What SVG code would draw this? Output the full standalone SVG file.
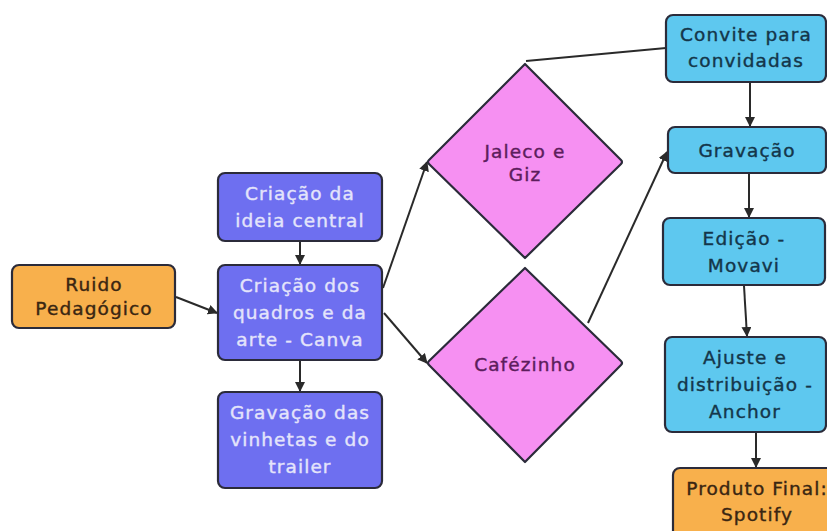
<svg xmlns="http://www.w3.org/2000/svg" width="827" height="531" viewBox="0 0 827 531">
<defs>
<marker id="ah" viewBox="0 0 10 10" refX="9" refY="5" markerWidth="5" markerHeight="5" orient="auto-start-reverse">
<path d="M0,0 L10,5 L0,10 z" fill="#2a2a2a"/>
</marker>
<style>
.n{stroke:#2b2b3a;stroke-width:2.2}
.p{fill:#6e6ff0}
.o{fill:#f8b04c}
.k{fill:#f690f2}
.b{fill:#5ec8ef}
text{font-family:"DejaVu Sans","Liberation Sans",sans-serif;font-size:18.5px;letter-spacing:1.1px;text-anchor:middle;stroke-width:0.4px}
.tp{fill:#e4e4fb;stroke:#e4e4fb}
.to{fill:#3a2612;stroke:#3a2612}
.tk{fill:#5c1d5c;stroke:#5c1d5c}
.tb{fill:#14364a;stroke:#14364a}
.c{stroke:#2a2a2a;stroke-width:2;fill:none}
</style>
</defs>
<rect width="827" height="531" fill="#ffffff"/>
<g id="connectors">
<line class="c" x1="300" y1="241" x2="300" y2="264" marker-end="url(#ah)"/>
<line class="c" x1="300" y1="360" x2="300" y2="391" marker-end="url(#ah)"/>
<line class="c" x1="176" y1="297" x2="217" y2="313" marker-end="url(#ah)"/>
<line class="c" x1="383" y1="288" x2="427" y2="162" marker-end="url(#ah)"/>
<line class="c" x1="384" y1="313" x2="427" y2="363" marker-end="url(#ah)"/>
<line class="c" x1="588" y1="323" x2="667" y2="152" marker-end="url(#ah)"/>
<line class="c" x1="526" y1="61" x2="666" y2="48"/>
<line class="c" x1="750" y1="82" x2="750" y2="126" marker-end="url(#ah)"/>
<line class="c" x1="749" y1="173" x2="749" y2="217" marker-end="url(#ah)"/>
<line class="c" x1="744" y1="286" x2="747" y2="336" marker-end="url(#ah)"/>
<line class="c" x1="756" y1="432" x2="756" y2="467" marker-end="url(#ah)"/>
</g>
<g id="ruido">
<rect class="n o" x="12" y="265" width="163" height="63" rx="7"/>
<text class="to" x="94" y="291">Ruido</text>
<text class="to" x="94" y="315">Pedagógico</text>
</g>
<g id="ideia">
<rect class="n p" x="218" y="173" width="164" height="68" rx="7"/>
<text class="tp" x="300" y="200">Criação da</text>
<text class="tp" x="300" y="227">ideia central</text>
</g>
<g id="quadros">
<rect class="n p" x="218" y="265" width="164" height="95" rx="7"/>
<text class="tp" x="300" y="292">Criação dos</text>
<text class="tp" x="300" y="319">quadros e da</text>
<text class="tp" x="300" y="346">arte - Canva</text>
</g>
<g id="vinhetas">
<rect class="n p" x="218" y="392" width="164" height="96" rx="7"/>
<text class="tp" x="300" y="419">Gravação das</text>
<text class="tp" x="300" y="446">vinhetas e do</text>
<text class="tp" x="300" y="473">trailer</text>
</g>
<g id="jaleco">
<path class="n k" d="M525,64 L621,160 Q623,162 621,164 L525,258 L429,164 Q427,162 429,160 Z" stroke-linejoin="round"/>
<text class="tk" x="525" y="158">Jaleco e</text>
<text class="tk" x="525" y="181">Giz</text>
</g>
<g id="cafezinho">
<path class="n k" d="M525,268 L621,361 Q623,363 621,365 L525,462 L429,365 Q427,363 429,361 Z" stroke-linejoin="round"/>
<text class="tk" x="525" y="371">Cafézinho</text>
</g>
<g id="convite">
<rect class="n b" x="666" y="15" width="160" height="67" rx="7"/>
<text class="tb" x="746" y="41">Convite para</text>
<text class="tb" x="746" y="67">convidadas</text>
</g>
<g id="gravacao">
<rect class="n b" x="668" y="127" width="158" height="46" rx="7"/>
<text class="tb" x="747" y="157">Gravação</text>
</g>
<g id="edicao">
<rect class="n b" x="663" y="218" width="162" height="67" rx="7"/>
<text class="tb" x="744" y="245">Edição -</text>
<text class="tb" x="744" y="272">Movavi</text>
</g>
<g id="ajuste">
<rect class="n b" x="665" y="337" width="161" height="95" rx="7"/>
<text class="tb" x="745" y="364">Ajuste e</text>
<text class="tb" x="745" y="391">distribuição -</text>
<text class="tb" x="745" y="418">Anchor</text>
</g>
<g id="produto">
<rect class="n o" x="673" y="468" width="170" height="80" rx="7"/>
<text class="to" x="757" y="495">Produto Final:</text>
<text class="to" x="757" y="521">Spotify</text>
</g>
</svg>
